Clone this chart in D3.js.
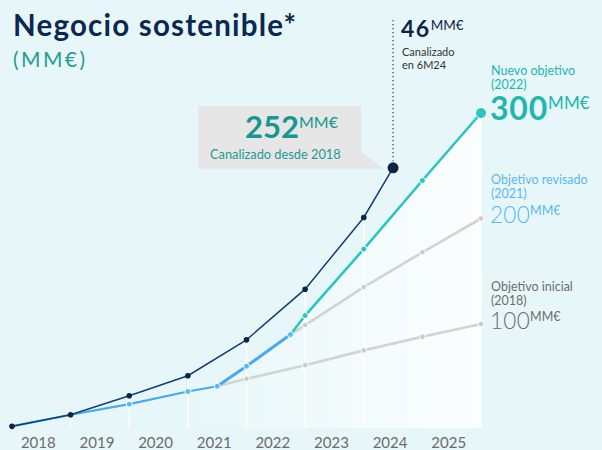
<!DOCTYPE html>
<html>
<head>
<meta charset="utf-8">
<script src="https://cdn.jsdelivr.net/npm/d3@7"></script>
<style>
  html, body { margin: 0; padding: 0; background: #e7f7f9; }
  svg { display: block; font-family: Lato, "Noto Sans", sans-serif; }
</style>
</head>
<body>
<svg id="chart" width="602" height="450"></svg>
<script>
// year labels (bands) and time positions of each series (in years)
const years = ['2018', '2019', '2020', '2021', '2022', '2023', '2024', '2025'];

// cumulative channelled (MM€)
const channelT = [2018, 2019, 2020, 2021, 2022, 2023, 2024, 2024.5];
const channelV = [3, 14, 32, 51, 85, 133, 201, 248];

// realised path against the revised objective
const revisedPathT = [2018, 2019, 2020, 2021, 2021.5, 2022, 2022.75];
const revisedPathV = [3, 14, 24, 36, 41, 60, 90];

// new objective (2022) -> 300
const newTargetT = [2022.75, 2023, 2024, 2025, 2026];
const newTargetV = [90, 108, 171, 236, 300];

// revised objective (2021) -> 200
const revisedTargetT = [2022.75, 2023, 2024, 2025, 2026];
const revisedTargetV = [90, 99, 135, 168, 200];

// initial objective (2018) -> 100
const initialTargetT = [2021.5, 2022, 2023, 2024, 2025, 2026];
const initialTargetV = [41, 48, 61, 75, 88, 100];

const svg = d3.select('#chart');
const x = d3.scaleLinear().domain([2018, 2026]).range([12, 481]);
const y = d3.scaleLinear().domain([0, 300]).range([429.5, 113]);
const baseY = 428;

const zip = (t, v) => t.map((d, i) => ({ t: d, v: v[i] }));
const channel = zip(channelT, channelV);
const revisedPath = zip(revisedPathT, revisedPathV);
const newTarget = zip(newTargetT, newTargetV);
const revisedTarget = zip(revisedTargetT, revisedTargetV);
const initialTarget = zip(initialTargetT, initialTargetV);

const line = d3.line().x(d => x(d.t)).y(d => y(d.v));

// gradient for the whitish area under the new objective
const defs = svg.append('defs');
const grad = defs.append('linearGradient')
  .attr('id', 'fade')
  .attr('gradientUnits', 'userSpaceOnUse')
  .attr('x1', 180).attr('x2', 481).attr('y1', 0).attr('y2', 0);
grad.append('stop').attr('offset', '0%').attr('stop-color', '#fff').attr('stop-opacity', 0);
grad.append('stop').attr('offset', '100%').attr('stop-color', '#fff').attr('stop-opacity', 0.85);

const areaData = revisedPath.concat(newTarget.slice(1));
svg.append('path')
  .datum(areaData)
  .attr('fill', 'url(#fade)')
  .attr('d', d3.area().x(d => x(d.t)).y0(baseY).y1(d => y(d.v)));

// vertical white grid lines at year ends, up to the highest value there
const all = [channel, revisedPath, newTarget, revisedTarget, initialTarget].flat();
const gridT = d3.range(2019, 2027);
svg.append('g')
  .selectAll('line')
  .data(gridT)
  .join('line')
  .attr('x1', d => x(d)).attr('x2', d => x(d))
  .attr('y1', baseY)
  .attr('y2', d => y(d3.max(all.filter(p => Math.abs(p.t - d) < 0.01), p => p.v)))
  .attr('stroke', '#fff')
  .attr('stroke-width', 1.2);

// year labels
svg.append('g')
  .selectAll('text')
  .data(years)
  .join('text')
  .attr('x', (d, i) => x(+d + 0.5) - 3)
  .attr('y', 448)
  .attr('text-anchor', 'middle')
  .attr('font-size', 15)
  .attr('fill', '#6b6b6b')
  .text(d => d);

// target lines
const drawLine = (data, color, width) => svg.append('path')
  .datum(data)
  .attr('fill', 'none')
  .attr('stroke', color)
  .attr('stroke-width', width)
  .attr('d', line);

const drawDots = (data, color, r, outline) => svg.append('g')
  .selectAll('circle')
  .data(data)
  .join('circle')
  .attr('cx', d => x(d.t))
  .attr('cy', d => y(d.v))
  .attr('r', r)
  .attr('fill', color)
  .attr('stroke', outline ? '#fff' : 'none')
  .attr('stroke-width', outline ? 1 : 0);

drawLine(initialTarget, '#d3d3d3', 2.6);
drawLine(revisedTarget, '#d3d3d3', 2.6);
drawDots(initialTarget.slice(1), '#cacaca', 2.8, true);
drawDots(revisedTarget.slice(1), '#cacaca', 2.8, true);

drawLine(newTarget, '#2cc5bf', 2.6);
drawDots(newTarget.slice(1, -1), '#2cc5bf', 3, true);
drawDots(newTarget.slice(-1), '#2cc5bf', 5.5, true);

drawLine(revisedPath.slice(0, 5), '#4aa9ec', 2.2);
drawLine(revisedPath.slice(4), '#4aa9ec', 3);
drawDots(revisedPath.slice(2), '#58b9f5', 3, true);

// channelled line
drawLine(channel, '#123f73', 1.5);
drawDots(channel.slice(0, -1), '#0b2548', 2.8, false);
const last = channel[channel.length - 1];
const lx = x(last.t), ly = y(last.v);
svg.append('line')
  .attr('x1', lx).attr('x2', lx)
  .attr('y1', 20).attr('y2', ly - 7)
  .attr('stroke', '#2c4a6e')
  .attr('stroke-width', 1.3)
  .attr('stroke-dasharray', '1.3,2.7');
svg.append('circle').attr('cx', lx).attr('cy', ly).attr('r', 5.5).attr('fill', '#0b2548');

// callout box pointing at the last channelled point
svg.append('path')
  .attr('d', `M${lx - 195},${ly - 62}H${lx - 32}V${ly - 16}L${lx - 9},${ly + 1}H${lx - 195}Z`)
  .attr('fill', '#e6e6e6');

const big = (xx, yy, num, size, supSize, supDy, color, weight, spacing) => {
  const t = svg.append('text').attr('x', xx).attr('y', yy).attr('fill', color);
  t.append('tspan').attr('font-size', size).attr('font-weight', weight)
    .attr('letter-spacing', spacing || 0).text(num);
  t.append('tspan').attr('font-size', supSize).attr('font-weight', 400).attr('dy', supDy).text('MM€');
  return t;
};

big(245, 138, '252', 31, 16, -10, '#17978f', 700, 0);
svg.append('text').attr('x', 210).attr('y', 159).attr('font-size', 12.8)
  .attr('fill', '#1f9a92').text('Canalizado desde 2018');

// 46 MM€ note
big(401, 37, '46', 23, 13.5, -7, '#0b2548', 700, 1.5);
svg.append('text').attr('x', 402).attr('y', 56).attr('font-size', 11).attr('fill', '#333')
  .text('Canalizado');
svg.append('text').attr('x', 402).attr('y', 69).attr('font-size', 11).attr('fill', '#333')
  .text('en 6M24');

// right-hand target labels
const targetLabel = (yy, l1, l2, num, color, weight, size, supSize, gap, spacing) => {
  svg.append('text').attr('x', 491).attr('y', yy).attr('font-size', 12.5).attr('fill', color).text(l1);
  svg.append('text').attr('x', 491).attr('y', yy + 14).attr('font-size', 12.5).attr('fill', color).text(l2);
  big(490, yy + 14 + gap, num, size, supSize, -(size * 0.34), color, weight, spacing);
};
targetLabel(75, 'Nuevo objetivo', '(2022)', '300', '#22b6ae', 700, 32, 17, 31, 0.8);
targetLabel(184, 'Objetivo revisado', '(2021)', '200', '#5cb8f2', 300, 22.5, 12.5, 25, 0.3);
targetLabel(291, 'Objetivo inicial', '(2018)', '100', '#6d6d6d', 300, 22.5, 12.5, 24, 0.3);

// title
svg.append('text').attr('x', 13).attr('y', 36).attr('font-size', 29.5).attr('font-weight', 700)
  .attr('letter-spacing', 1.2)
  .attr('fill', '#0b2850').text('Negocio sostenible*');
svg.append('text').attr('x', 13).attr('y', 67).attr('font-size', 21)
  .attr('letter-spacing', 2.4)
  .attr('fill', '#2a9b94').text('(MM€)');
</script>
</body>
</html>
